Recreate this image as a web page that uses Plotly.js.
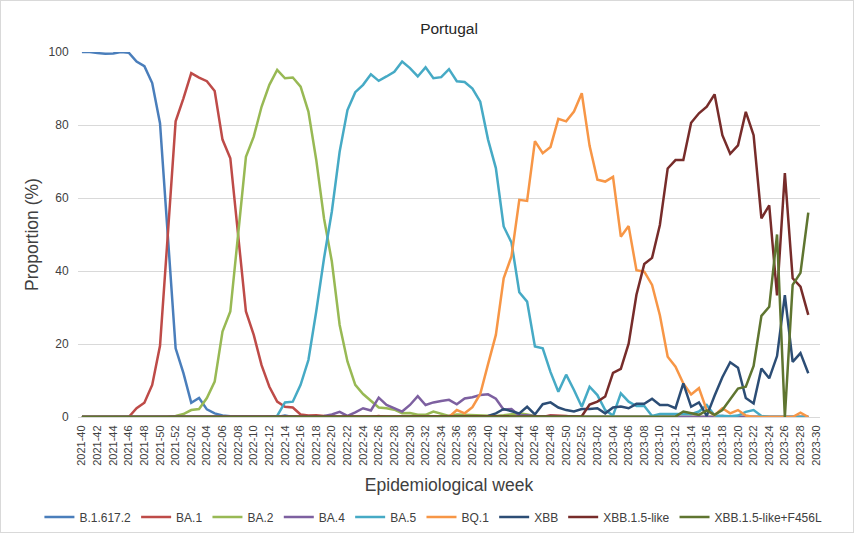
<!DOCTYPE html>
<html><head><meta charset="utf-8">
<script src="https://cdn.plot.ly/plotly-3.0.1.min.js"></script>
<style>
html,body{margin:0;padding:0;background:#fff;}
#wrap{width:852px;height:531px;border:1px solid #d9d9d9;}
#chart{width:852px;height:531px;}
</style></head><body>
<div id="wrap"><div id="chart"></div></div>
<script>
const weeks = [
 "2021-40","2021-41","2021-42","2021-43","2021-44","2021-45","2021-46","2021-47","2021-48","2021-49","2021-50","2021-51","2021-52",
 "2022-01","2022-02","2022-03","2022-04","2022-05","2022-06","2022-07","2022-08","2022-09","2022-10","2022-11","2022-12","2022-13",
 "2022-14","2022-15","2022-16","2022-17","2022-18","2022-19","2022-20","2022-21","2022-22","2022-23","2022-24","2022-25","2022-26",
 "2022-27","2022-28","2022-29","2022-30","2022-31","2022-32","2022-33","2022-34","2022-35","2022-36","2022-37","2022-38","2022-39",
 "2022-40","2022-41","2022-42","2022-43","2022-44","2022-45","2022-46","2022-47","2022-48","2022-49","2022-50","2022-51","2022-52",
 "2023-01","2023-02","2023-03","2023-04","2023-05","2023-06","2023-07","2023-08","2023-09","2023-10","2023-11","2023-12","2023-13",
 "2023-14","2023-15","2023-16","2023-17","2023-18","2023-19","2023-20","2023-21","2023-22","2023-23","2023-24","2023-25","2023-26",
 "2023-27","2023-28","2023-29","2023-30"];

const tickLabels = ["2021-40","2021-42","2021-44","2021-46","2021-48","2021-50","2021-52","2022-02","2022-04","2022-06","2022-08",
 "2022-10","2022-12","2022-14","2022-16","2022-18","2022-20","2022-22","2022-24","2022-26","2022-28","2022-30","2022-32","2022-34",
 "2022-36","2022-38","2022-40","2022-42","2022-44","2022-46","2022-48","2022-50","2022-52","2023-02","2023-04","2023-06","2023-08",
 "2023-10","2023-12","2023-14","2023-16","2023-18","2023-20","2023-22","2023-24","2023-26","2023-28","2023-30"];

const B16172 = [100,100,99.7,99.5,99.6,100,99.8,97.4,96.1,91.5,
 80.5,49.7,18.8,12,3.9,5.2,2.1,1,0.4,0.2,
 0.1,0.2,0.1,0,0.1,0,0.4,0,0,0,
 0,0,0,0,0,0,0,0,0,0, 0,0,0,0,0,0,0,0,0,0, 0,0,0,0,0,0,0,0,0,0,
 0,0,0,0,0,0,0,0,0,0, 0,0,0,0,0,0,0,0,0,0, 0,0,0,0,0,0,0,0,0,0,
 0,0,0,0,null];

const BA1 = [0,0,0,0,0,0,0,2.4,3.9,8.8,
 19.5,50,81,87.3,94.2,93,92,89.3,76,70.9,
 50,28.9,22.5,14.2,8.3,4.2,2.8,2.6,0.7,0.4,
 0.5,0.2,0.1,0,0,0,0,0,0.3,0,
 0,0,0,0,0,0,0,0.3,0.4,0,
 0,0,0,0,0,0,0,0,0,0,
 0.5,0.5,0.3,0,0,0,0,0,0,0,
 0,0,0,0,0,0,0,0,0,0,
 0,0,0.3,0,0,0,0,0,0,0,
 0,0,0,0,null];

const BA2 = [0,0,0,0,0,0,0,0,0,0,
 0,0.1,0.3,0.8,1.9,2.2,5.2,9.7,23.4,28.9,
 50,71.3,76.8,85,91,95.1,92.8,93,90.5,83.7,
 70.5,54.4,42.6,25.2,15.2,8.8,6.3,4.5,2.6,2.4,
 2,1,1.1,0.6,0.6,1.5,1,0.3,0.7,0.6,
 0.4,0.3,0.2,0.3,0.5,0.8,1,0.7,0.3,0.2,
 0,0,0,0,0,0,0,0,0,0,
 0,0,0,0,0,0,0,0,0,0,
 0,0,0,0,0,0,0,0,0,0,
 0,0,0,0,null];

const BA4 = [0,0,0,0,0,0,0,0,0,0, 0,0,0,0,0,0,0,0,0,0, 0,0,0,0,0,0,0,0,0,0,
 0.2,0.3,0.7,1.4,0.3,1.3,2.4,1.8,5.3,3.3,
 2.5,1.5,3.3,5.7,3.3,4,4.4,4.7,3.5,5.1,
 5.4,6,6.2,5,2,2.2,0.4,0.5,0.2,0.1,
 0.3,0.2,0,0,0,0,0,0,0,0,
 0,0,0,0,0,0,0,0,0,0,
 0,0,0,0,0,0,0,0,0,0,
 0,0,0,0,null];

const BA5 = [0,0,0,0,0,0,0,0,0,0, 0,0,0,0,0,0,0,0,0,0,
 0,0,0,0,0,0.3,4,4.2,8.8,15.6,
 28.9,43.5,56.3,72.7,84.1,89,91,93.9,92.1,93.3,
 94.6,97.4,95.6,93.3,95.8,92.8,93.1,95.3,92,91.8,
 90,86.4,76,68.2,52.2,47.8,34.2,31.6,19.3,18.8,
 12.3,6.9,11.6,7.4,2.8,8.3,6,1.9,0.4,6.5,
 4.2,3,3,0.3,0.8,0.8,0.8,0.8,0.8,1.5,
 3.3,0.4,0.2,0.2,0.4,1.4,1.9,0.3,0,0,
 0,0,0,0,null];

const BQ1 = [0,0,0,0,0,0,0,0,0,0, 0,0,0,0,0,0,0,0,0,0, 0,0,0,0,0,0,0,0,0,0, 0,0,0,0,0,0,0,0,0,0,
 0,0,0,0,0,0,0,0,1.9,1,
 2.7,6.3,14.5,22.5,38,44,59.5,59.2,75.6,72.3,
 74,81.7,81,83.7,88.7,74.3,65,64.5,65.8,49.4,
 52.3,40.2,39.8,36.2,27.9,16.5,13.8,9.2,6.2,7.9,
 1.9,0.5,2.4,1,1.9,0.4,0,0,0,0,
 0,0,1.2,0,null];

const XBB = [0,0,0,0,0,0,0,0,0,0, 0,0,0,0,0,0,0,0,0,0, 0,0,0,0,0,0,0,0,0,0, 0,0,0,0,0,0,0,0,0,0,
 0,0,0,0,0,0,0,0,0,0,
 0,0,0.3,1,2.2,1.6,1,2.8,0.7,3.5,
 4,2.6,1.9,1.5,2.2,2.2,2.4,1,2.6,2.9,
 2.4,3.6,3.6,5,3.3,3.3,2.4,9.2,2.8,4,
 0.3,5.8,10.9,15,13.5,5.2,3.7,13.3,10.6,16.7,
 33.4,15.1,17.5,12,null];

const XBB15 = [0,0,0,0,0,0,0,0,0,0, 0,0,0,0,0,0,0,0,0,0, 0,0,0,0,0,0,0,0,0,0,
 0,0,0,0,0,0,0,0,0,0, 0,0,0,0,0,0,0,0,0,0, 0,0,0,0,0,0,0,0,0,0,
 0,0,0,0,0.2,3.4,4.2,5.6,12.1,13.2,
 20.1,33.5,41.9,43.6,52.6,68.1,70.4,70.4,80.6,83.2,
 85,88.4,77.2,72.1,74.4,83.6,77.2,54.4,58,33.3,
 66.8,38,35.7,28,null];

const XBB15F456L = [0,0,0,0,0,0,0,0,0,0, 0,0,0,0,0,0,0,0,0,0, 0,0,0,0,0,0,0,0,0,0,
 0,0,0,0,0,0,0,0,0,0, 0,0,0,0,0,0,0,0,0,0, 0,0,0,0,0,0,0,0,0,0, 0,0,0,0,0,0,0,0,0,0,
 0,0,0,0,0,0,0.1,1.5,1,0.6,
 1.8,0.6,1.9,5,7.8,8.3,14,27.7,30.2,50,
 0,36.2,39.5,56,null];

const seriesNames = ["B.1.617.2","BA.1","BA.2","BA.4","BA.5","BQ.1","XBB","XBB.1.5-like","XBB.1.5-like+F456L"];
const seriesValues = [B16172, BA1, BA2, BA4, BA5, BQ1, XBB, XBB15, XBB15F456L];
const seriesColors = ["#4a7ebb","#be4b48","#98b954","#7d60a0","#46aac5","#f79646","#2c4d75","#772c2a","#5f7530"];

const traces = seriesNames.map((n, k) => ({
  type: 'scatter', mode: 'lines', name: n,
  x: weeks, y: seriesValues[k],
  line: {color: seriesColors[k], width: 2.5},
  connectgaps: false,
  hoverinfo: 'x+y+name'
}));

const layout = {
  width: 852, height: 531,
  margin: {l: 77, r: 33, t: 51, b: 115, autoexpand: false},
  paper_bgcolor: '#ffffff', plot_bgcolor: '#ffffff',
  font: {family: 'Liberation Sans, Arial, sans-serif', color: '#595959', size: 11},
  title: {text: 'Portugal', font: {size: 15.5, color: '#262626'},
          x: 0.5, xref: 'paper', xanchor: 'center', y: 0.949, yref: 'container', yanchor: 'middle'},
  xaxis: {
    type: 'category', range: [-0.5, 94.5],
    tickmode: 'array', tickvals: tickLabels, ticktext: tickLabels,
    tickangle: -90, tickfont: {size: 11, color: '#404040'},
    showgrid: false, showline: true, linecolor: '#d9d9d9', linewidth: 1,
    ticks: 'outside', ticklen: 3, tickcolor: 'rgba(0,0,0,0)', zeroline: false,
    automargin: false,
    title: {text: 'Epidemiological week', font: {size: 17.5, color: '#404040'}, standoff: 13}
  },
  yaxis: {
    range: [0, 100], dtick: 20, tick0: 0,
    showgrid: true, gridcolor: '#d9d9d9', gridwidth: 1,
    zeroline: false, showline: false,
    ticks: 'outside', ticklen: 6, tickcolor: 'rgba(0,0,0,0)',
    tickfont: {size: 12, color: '#404040'},
    automargin: false,
    title: {text: 'Proportion (%)', font: {size: 17.5, color: '#404040'}, standoff: 5}
  },
  showlegend: true,
  legend: {
    orientation: 'h', xref: 'paper', yref: 'paper',
    x: -0.052, xanchor: 'left', y: -0.274, yanchor: 'middle',
    font: {size: 12, color: '#404040'}, itemwidth: 30, tracegroupgap: 0,
    bgcolor: 'rgba(0,0,0,0)'
  }
};

Plotly.newPlot('chart', traces, layout, {displayModeBar: false, responsive: false});
</script>
</body></html>
